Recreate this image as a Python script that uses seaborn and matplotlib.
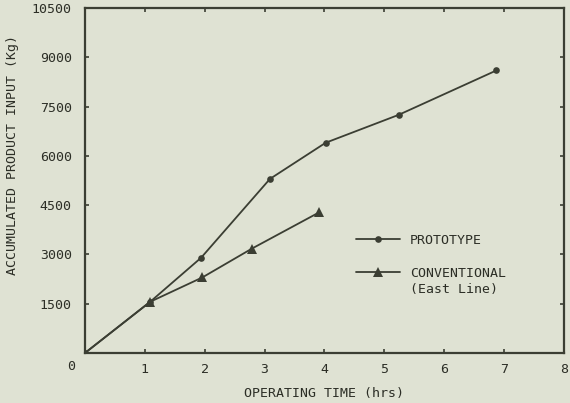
import matplotlib
matplotlib.use("Agg")
import matplotlib.pyplot as plt
import seaborn as sns
import pandas as pd

# Operating time (hrs) and accumulated product input (kg)
proto_hours = [0.0, 1.09, 1.94, 3.09, 4.02, 5.24, 6.87]
proto_kg = [0, 1560, 2900, 5300, 6400, 7250, 8600]
conv_hours = [0.0, 1.09, 1.96, 2.79, 3.91]
conv_kg = [0, 1560, 2300, 3180, 4280]

x_ticks = [1, 2, 3, 4, 5, 6, 7, 8]
y_ticks = [1500, 3000, 4500, 6000, 7500, 9000, 10500]

bg = "#dfe2d3"
ink = "#3b3e33"
txt = "#2c2e26"
fs = 9.5

sns.set_theme(style="ticks")
plt.rcParams["font.family"] = ["DejaVu Sans Mono"]

W, H = 570, 403
fig = plt.figure(figsize=(W / 100, H / 100), dpi=100, facecolor=bg)
ax = fig.add_axes([0.149, 0.124, 0.8404, 0.856])
ax.set_facecolor(bg)

proto = pd.DataFrame({"t": proto_hours, "kg": proto_kg})
conv = pd.DataFrame({"t": conv_hours, "kg": conv_kg})

sns.lineplot(data=proto, x="t", y="kg", ax=ax, color=ink, lw=1.3,
             marker="o", markersize=4.8, markeredgewidth=0,
             label="PROTOTYPE")
sns.lineplot(data=conv, x="t", y="kg", ax=ax, color=ink, lw=1.3,
             marker="^", markersize=6.5, markeredgewidth=0,
             label="CONVENTIONAL")

ax.set_xlim(0, 8)
ax.set_ylim(0, 10500)
ax.set_xticks(x_ticks)
ax.set_yticks(y_ticks)
ax.set_xticklabels([str(v) for v in x_ticks], fontsize=fs, color=txt)
ax.set_yticklabels([str(v) for v in y_ticks], fontsize=fs, color=txt)
ax.tick_params(direction="in", length=3, width=1.2, color=ink,
               top=True, right=True)
ax.tick_params(axis="x", pad=7)
ax.tick_params(axis="y", pad=9.4)

for s in ax.spines.values():
    s.set_color(ink)
    s.set_linewidth(1.6)

# shared origin label
ax.text(-0.021, -0.02, "0", transform=ax.transAxes, ha="right", va="top",
        fontsize=fs, color=txt)

ax.set_xlabel("OPERATING TIME (hrs)", fontsize=fs, color=txt, labelpad=8)
ax.set_ylabel("ACCUMULATED PRODUCT INPUT (Kg)", fontsize=fs, color=txt)
ax.yaxis.set_label_coords(-0.137, 0.574)

leg = ax.legend(loc="upper left", bbox_to_anchor=(0.565, 0.345),
                frameon=False, fontsize=fs, handlelength=3.4,
                labelspacing=1.5, handletextpad=0.7, borderpad=0,
                borderaxespad=0, labelcolor=txt)

# second line of the conventional entry, set under its label
fig.canvas.draw()
bb = leg.get_texts()[1].get_window_extent()
fig.text(bb.x0 / W, (bb.y0 - 3) / H, "(East Line)", ha="left", va="top",
         fontsize=fs, color=txt)

fig.savefig("out.png", dpi=100, facecolor=bg)
